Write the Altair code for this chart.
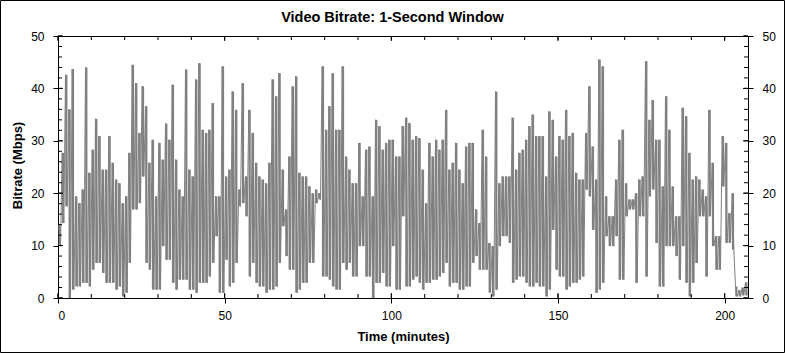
import altair as alt
import pandas as pd

# ---- data (per-minute peak and trough of the 1-second bitrate, Mbps) ----
minutes = list(range(207))
peak_mbps = [
    14, 27.7, 42.6, 36, 43.7, 19.4, 18.1, 20.7, 44, 23.9,
    28.3, 34.2, 30.9, 24.5, 24.5, 30.9, 25.8, 22.6, 21.9, 18.1,
    19.4, 27.7, 44.5, 41, 31.5, 40.4, 36.6, 25.8, 30.2, 19.4,
    29.6, 26.4, 33.3, 30.2, 40.7, 26.4, 20.7, 19.4, 43.6, 24.5,
    23.2, 41.7, 44.8, 32.1, 31.5, 32.1, 37.2, 19.4, 19.4, 44.2,
    23.2, 24.5, 39.4, 35.9, 20.7, 41, 23.2, 35.9, 31.5, 25.8,
    23.2, 22.6, 21.9, 25.8, 41.7, 38.5, 42.9, 24.5, 16.9, 27,
    40.4, 42.3, 23.9, 23.2, 23.2, 21.3, 20, 20.7, 20, 44.2,
    32.1, 36.6, 42.9, 32.1, 32.1, 44.2, 27, 24.5, 21.9, 21.9,
    29.6, 19.4, 28.3, 28.9, 19.4, 34, 32.8, 28.3, 29.6, 30.2,
    30.2, 27, 27, 32.8, 34.4, 33.4, 30.2, 30.9, 30.5, 24.5,
    18.1, 29.6, 27, 30.2, 28.3, 30.2, 35.9, 24.5, 25.8, 29.6,
    24.5, 21.9, 28.9, 29.6, 29.6, 16.9, 14.3, 32.1, 27, 10.5,
    9.9, 39.4, 21.9, 23.2, 23.2, 23.2, 34.4, 24.5, 27.7, 28.3,
    30.2, 32.8, 35, 30.9, 30.9, 30.9, 23.2, 35.6, 34, 27,
    30.9, 30.2, 35.9, 30.9, 31.5, 23.9, 22.6, 22.6, 31.5, 40.4,
    28.9, 22.6, 45.5, 44.2, 19.4, 15.6, 15.6, 22.6, 30.2, 32.1,
    21.9, 18.8, 18.8, 20, 22.6, 23.2, 45.2, 34, 37.8, 30.2,
    30.2, 21.3, 38.5, 32.1, 21.3, 15.6, 15.6, 36.3, 34.7, 27.7,
    22.6, 23.2, 22.6, 20.7, 19.4, 35.9, 25.8, 11.8, 11.8, 30.9,
    29.6, 16.2, 20, 2.2, 1.5, 2, 3,
]
trough_mbps = [
    10, 14.3, 17.5, 0, 1.6, 2.2, 2.2, 2.9, 2.9, 2.2,
    5.4, 6.7, 6.7, 4.8, 2.9, 2.9, 2.9, 1.6, 2.2, 0.3,
    1, 6.7, 16.9, 16.9, 18.1, 23.2, 6.7, 5.4, 1.6, 1.6,
    1.6, 9.9, 7.3, 7.3, 2.9, 1.6, 3.5, 3.5, 3.5, 1.6,
    1.6, 1, 2.9, 2.9, 2.9, 4.1, 6.7, 11.8, 1, 1,
    7.3, 2.2, 2.9, 6.7, 17.5, 18.1, 15.6, 4.1, 6.7, 2.9,
    2.2, 2.2, 1, 1.6, 1.6, 2.2, 6.7, 13.7, 8, 5.4,
    5.4, 1, 1.6, 2.9, 2.9, 6.7, 6.7, 18.1, 18.8, 4.1,
    4.1, 3.5, 2.2, 1.6, 1.6, 6.7, 5.4, 6.7, 4.1, 4.1,
    9.9, 9.9, 4.1, 4.1, 0, 2.9, 2.9, 4.8, 2.2, 2.2,
    9.9, 1.6, 1.6, 15.6, 2.2, 2.2, 3.5, 4.1, 2.9, 1.6,
    2.9, 2.9, 3.5, 3.5, 4.1, 4.8, 6.7, 2.2, 2.9, 2.9,
    1.6, 1.6, 2.2, 2.2, 6.7, 8, 5.4, 5.4, 5.4, 1,
    0.3, 1.6, 9.9, 11.8, 11.8, 10.5, 2.9, 3.5, 4.1, 4.1,
    2.9, 2.2, 2.2, 2.9, 2.2, 2.2, 0.3, 1.6, 13, 5.4,
    4.1, 4.1, 1.6, 2.2, 2.9, 2.9, 3.5, 4.1, 20.7, 19.4,
    13, 1, 1.6, 2.9, 11.8, 9.9, 9.9, 11.8, 3.5, 3.5,
    15.6, 16.9, 16.9, 2.9, 15.6, 15.6, 4.1, 19.4, 20.7, 10.5,
    2.2, 2.2, 9.9, 9.9, 9.9, 8, 3.5, 9.9, 2.9, 0.3,
    2.9, 6.7, 15.6, 15.6, 4.1, 15.6, 9.9, 5.4, 5.4, 21.3,
    10.5, 10.5, 9.2, 0.3, 0.3, 0.5, 0.5,
]

y_ticks_minor = list(range(0, 51, 2))
y_ticks_major = list(range(0, 51, 10))
x_ticks_minor = list(range(0, 201, 10))
x_ticks_major = [0, 50, 100, 150, 200]

title_text = "Video Bitrate: 1-Second Window"
x_title = "Time (minutes)"
y_title = "Bitrate (Mbps)"

# ---- build tables ----
band = pd.DataFrame({"t": [m + 0.5 for m in minutes], "lo": trough_mbps, "hi": peak_mbps})
rows = []
for m, h, l in zip(minutes, peak_mbps, trough_mbps):
    rows.append({"t": m + 0.25, "v": h})
    rows.append({"t": m + 0.75, "v": l})
df = pd.DataFrame(rows)

W, H = 690, 262
FONT = "Liberation Sans"
GRAY = "#808080"
xs = alt.Scale(domain=[0, 207], nice=False, zero=False)
ys = alt.Scale(domain=[0, 50], nice=False)

swing = alt.Chart(band).mark_rule(color=GRAY, strokeWidth=2.2).encode(
    x=alt.X("t:Q", scale=xs, axis=alt.Axis(values=x_ticks_major, orient="bottom", tickSize=5,
                                            labelPadding=7, title=None, format="d")),
    y=alt.Y("lo:Q", scale=ys, axis=alt.Axis(values=y_ticks_major, orient="left", tickSize=5,
                                             labelPadding=9, title=None, format="d")),
    y2="hi:Q",
)

line = alt.Chart(df).mark_line(color=GRAY, strokeWidth=1).encode(
    x=alt.X("t:Q", scale=xs, axis=None),
    y=alt.Y("v:Q", scale=ys, axis=None),
)


def y_rules(vals, x_from, x_to, axis=None):
    d = pd.DataFrame({"y": vals})
    return alt.Chart(d).mark_rule(color="black", strokeWidth=1).encode(
        y=alt.Y("y:Q", scale=ys, axis=axis),
        x=alt.value(x_from), x2=alt.value(x_to),
    )


def x_rules(vals, y_from, y_to):
    d = pd.DataFrame({"x": vals})
    return alt.Chart(d).mark_rule(color="black", strokeWidth=1).encode(
        x=alt.X("x:Q", scale=xs, axis=None),
        y=alt.value(y_from), y2=alt.value(y_to),
    )


right_axis = alt.Axis(values=y_ticks_major, orient="right", tickSize=5,
                      labelPadding=9, title=None, format="d")

layers = [
    swing,
    line,
    y_rules(y_ticks_minor, 0, 4),
    y_rules(y_ticks_major, 0, 5),
    y_rules(y_ticks_minor, W, W - 4, axis=right_axis),
    y_rules(y_ticks_major, W, W - 5),
    x_rules(x_ticks_minor, H, H - 4),
    x_rules(x_ticks_major, H, H - 5),
    x_rules(x_ticks_minor, 0, 4),
    x_rules(x_ticks_major, 0, 5),
]

dummy = pd.DataFrame({"k": [0]})
layers.append(
    alt.Chart(dummy).mark_text(text=title_text, font=FONT, fontSize=14.5, fontWeight="bold",
                               align="center", baseline="alphabetic", color="black")
    .encode(x=alt.value(334.5), y=alt.value(-14.3))
)
layers.append(
    alt.Chart(dummy).mark_text(text=x_title, font=FONT, fontSize=13, fontWeight="bold",
                               align="center", baseline="alphabetic", color="black")
    .encode(x=alt.value(345.5), y=alt.value(305))
)
layers.append(
    alt.Chart(dummy).mark_text(text=y_title, font=FONT, fontSize=13, fontWeight="bold",
                               align="center", baseline="alphabetic", color="black", angle=270)
    .encode(x=alt.value(-36.3), y=alt.value(129.5))
)
layers.append(
    alt.Chart(dummy).mark_rect(fillOpacity=0, stroke="black", strokeWidth=1)
    .encode(x=alt.value(-57.5), x2=alt.value(W + 36.5), y=alt.value(-35.5), y2=alt.value(H + 54.5))
)

chart = (
    alt.layer(*layers)
    .resolve_scale(x="independent", y="independent")
    .properties(width=W, height=H, background="white",
                padding={"left": 58, "top": 36, "right": 37, "bottom": 55},
                autosize=alt.AutoSizeParams(type="none"))
    .configure_view(stroke="black", strokeWidth=1)
    .configure_axis(domainColor="black", tickColor="black", labelColor="black",
                    labelFont=FONT, labelFontSize=12, grid=False, domainWidth=1, tickWidth=1)
)

chart.save("out.html", embed_options={"renderer": "svg", "actions": False})
